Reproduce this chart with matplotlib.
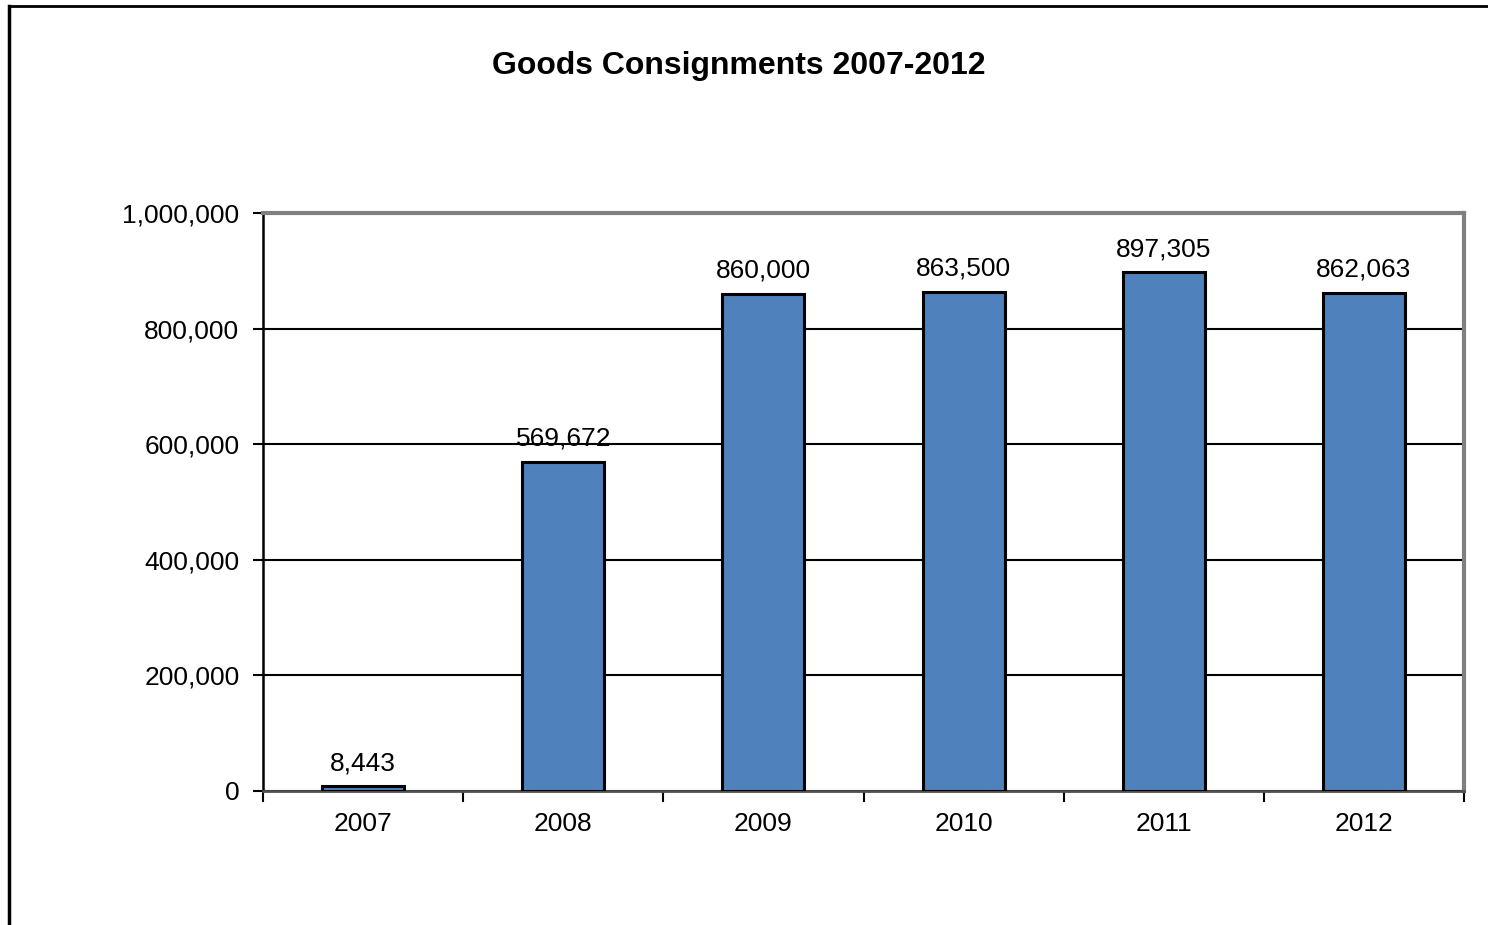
import matplotlib.pyplot as plt
from matplotlib.lines import Line2D
from matplotlib.ticker import FuncFormatter, MultipleLocator

plt.rcParams['font.family'] = ['Liberation Sans', 'DejaVu Sans']

years = ['2007', '2008', '2009', '2010', '2011', '2012']
consignments = [8443, 569672, 860000, 863500, 897305, 862063]

fig = plt.figure(figsize=(14.88, 9.25), dpi=100)
ax = fig.add_axes([263 / 1488, 1 - 791 / 925, (1464 - 263) / 1488, (791 - 213) / 925])

x = list(range(len(years)))
ax.bar(x, consignments, width=0.41, color='#4F81BD', edgecolor='black', linewidth=2.2, zorder=3)

for xi, v in zip(x, consignments):
    ax.annotate('{:,}'.format(v), (xi, v), xytext=(0, 8), textcoords='offset points',
                ha='center', va='bottom', fontsize=19)

ax.set_xlim(-0.5, len(years) - 0.5)
ax.set_ylim(0, 1000000)
ax.yaxis.set_major_locator(MultipleLocator(200000))
ax.yaxis.set_major_formatter(FuncFormatter(lambda v, p: '{:,.0f}'.format(v)))
ax.grid(axis='y', color='black', linewidth=1.5, zorder=1)

# category labels centered, tick marks between categories
ax.set_xticks(x)
ax.set_xticklabels(years)
ax.set_xticks([i - 0.5 for i in range(len(years) + 1)], minor=True)
ax.tick_params(axis='x', which='major', length=0, labelsize=19, pad=15)
ax.tick_params(axis='x', which='minor', length=8, width=1.5, direction='out')
ax.tick_params(axis='y', length=7, width=1.5, labelsize=19, pad=10)

ax.spines['left'].set_color('black')
ax.spines['left'].set_linewidth(1.8)
ax.spines['bottom'].set_color('#505050')
ax.spines['bottom'].set_linewidth(2)
for s in ('top', 'right'):
    ax.spines[s].set_color('#808080')
    ax.spines[s].set_linewidth(3)

fig.text(0.4966, 1 - 66 / 925, 'Goods Consignments 2007-2012', ha='center', va='center',
         fontsize=23, fontweight='bold')

# outer chart frame (top and left edges)
fig.add_artist(Line2D([8.5 / 1488, 1], [1 - 5.5 / 925, 1 - 5.5 / 925], color='black', linewidth=2))
fig.add_artist(Line2D([8.5 / 1488, 8.5 / 1488], [1 - 5.5 / 925, 1 - 924 / 925], color='black', linewidth=2.5))

fig.savefig('out.png', dpi=100)
